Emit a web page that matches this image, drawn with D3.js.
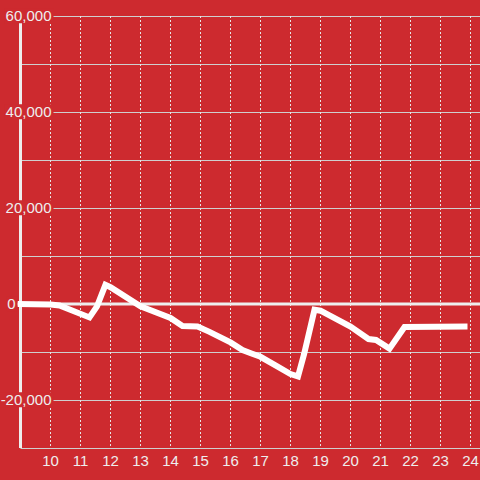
<!DOCTYPE html>
<html>
<head>
<meta charset="utf-8">
<script src="https://cdn.jsdelivr.net/npm/d3@7"></script>
<style>
  body { margin: 0; background: #cd2a2f; }
  svg { display: block; }
  text { font-family: "Liberation Sans", Arial, sans-serif; font-size: 15px; fill: #eee; }
</style>
</head>
<body>
<svg width="480" height="480"></svg>
<script>
// hours (x) and balance (y)
var hours  = [8.9, 10.0, 10.3, 11.3, 11.55, 11.83, 12.0, 13.0, 14.0, 14.4, 14.9, 15.3, 16.0, 16.4, 16.7,
              17.0, 17.5, 18.0, 18.25, 18.45, 18.8, 19.0, 20.0, 20.6, 20.85, 21.3, 21.8, 23.9];
var values = [0, -100, -300, -2800, -500, 4000, 3500, -500, -2900, -4600, -4700, -5800, -8000, -9600, -10300,
              -11000, -12800, -14600, -15100, -10500, -1200, -1400, -4700, -7300, -7500, -9300, -4800, -4700];
var xTicks = [10, 11, 12, 13, 14, 15, 16, 17, 18, 19, 20, 21, 22, 23, 24];
var yTicks = [-30000, -20000, -10000, 0, 10000, 20000, 30000, 40000, 50000, 60000];
var yLabels = [-20000, 0, 20000, 40000, 60000];

var svg = d3.select("svg"),
    width = +svg.attr("width"),
    height = +svg.attr("height");

var x = d3.scaleLinear()
    .domain([9, 24])
    .range([20.5, 470.5]);

var y = d3.scaleLinear()
    .domain([-30000, 60000])
    .range([448, 16]);

// horizontal grid
svg.append("g")
    .attr("class", "ygrid")
  .selectAll("line")
  .data(yTicks)
  .enter().append("line")
    .attr("x1", x(9))
    .attr("x2", width)
    .attr("y1", function(d) { return Math.round(y(d)) + 0.5; })
    .attr("y2", function(d) { return Math.round(y(d)) + 0.5; })
    .attr("stroke", "#cfcfcf")
    .attr("stroke-width", 1);

// vertical dotted grid
svg.append("g")
    .attr("class", "xgrid")
  .selectAll("line")
  .data(xTicks)
  .enter().append("line")
    .attr("x1", function(d) { return x(d); })
    .attr("x2", function(d) { return x(d); })
    .attr("y1", y(60000))
    .attr("y2", y(-30000))
    .attr("stroke", "#e6e6e6")
    .attr("stroke-width", 1)
    .attr("stroke-dasharray", "2,2");

// zero line
svg.append("line")
    .attr("x1", x(9) - 3.5)
    .attr("x2", width)
    .attr("y1", y(0))
    .attr("y2", y(0))
    .attr("stroke", "#eee")
    .attr("stroke-width", 3);

// y axis line
svg.append("line")
    .attr("x1", x(9))
    .attr("x2", x(9))
    .attr("y1", y(60000))
    .attr("y2", y(-30000))
    .attr("stroke", "#eee")
    .attr("stroke-width", 3);

// data line
var line = d3.line()
    .x(function(d, i) { return x(hours[i]); })
    .y(function(d) { return y(d); });

svg.append("path")
    .datum(values)
    .attr("fill", "none")
    .attr("stroke", "#fff")
    .attr("stroke-width", 6)
    .attr("d", line);

// x labels
svg.append("g")
    .attr("class", "xlabels")
  .selectAll("text")
  .data(xTicks)
  .enter().append("text")
    .attr("x", function(d) { return x(d); })
    .attr("y", 461)
    .attr("dy", "0.35em")
    .attr("text-anchor", "middle")
    .text(function(d) { return d; });

// y labels with a background patch, covering axis and grid
var fmt = d3.format(",");
var yl = svg.append("g")
    .attr("class", "ylabels")
  .selectAll("g")
  .data(yLabels)
  .enter().append("g");

yl.append("rect")
    .attr("fill", "#cd2a2f");

yl.append("text")
    .attr("x", function(d) { return d === 0 ? 15.5 : 51.5; })
    .attr("y", function(d) { return y(d); })
    .attr("dy", "0.35em")
    .attr("text-anchor", "end")
    .text(function(d) { return fmt(d).replace("−", "-"); });

yl.each(function() {
  var g = d3.select(this);
  var b = g.select("text").node().getBBox();
  g.select("rect")
      .attr("x", b.x - 1)
      .attr("y", b.y + 1)
      .attr("width", b.width + 3)
      .attr("height", b.height - 2);
});
</script>
</body>
</html>
